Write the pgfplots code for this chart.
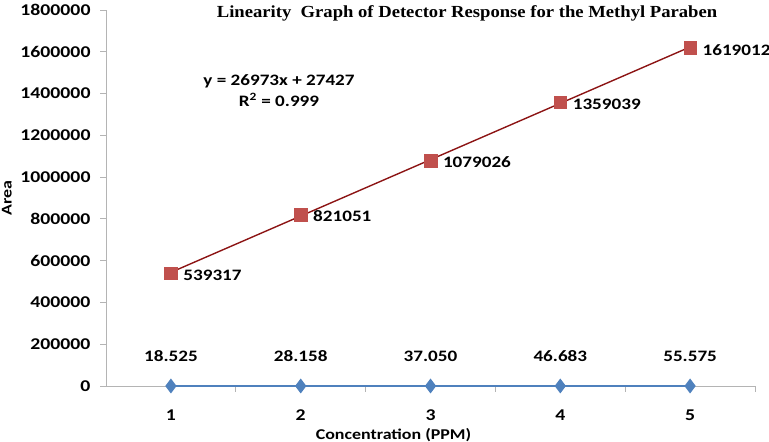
\documentclass[border=0pt]{standalone}
\usepackage{pgfplots}
\pgfplotsset{compat=1.18}
\usepackage{fontspec}
\setmainfont{Carlito}
\newfontfamily\titlefont{Liberation Serif}
\definecolor{exred}{RGB}{192,80,77}
\definecolor{exdark}{RGB}{140,20,20}
\definecolor{exblue}{RGB}{79,129,189}
\definecolor{axgray}{RGB}{180,180,180}
\newcommand\hs[1]{\scalebox{1.2}[1]{#1}}
\begin{document}
\begin{tikzpicture}[x=1bp,y=1bp]
\useasboundingbox (0,0) rectangle (769,442);
\begin{axis}[
  at={(106bp,56bp)}, anchor=origin,
  scale only axis, width=649bp, height=376bp,
  xmin=0.5, xmax=5.5, ymin=0, ymax=1800000,
  axis lines*=left,
  axis line style={axgray, line width=0.8pt},
  xtick={1,2,3,4,5},
  major x tick style={draw=none},
  minor xtick={1.5,2.5,3.5,4.5,5.5},
  minor x tick style={axgray, line width=0.8pt},
  minor tick length=6bp,
  ytick={0,200000,...,1800000},
  major y tick style={axgray, line width=0.8pt},
  major tick length=6bp,
  tick align=outside,
  scaled y ticks=false,
  yticklabel={\hs{\pgfmathprintnumber[fixed,1000 sep={}]{\tick}}},
  yticklabel style={font=\fontsize{16.5}{18}\selectfont\bfseries, xshift=-6bp},
  xticklabel={\hs{\pgfmathprintnumber{\tick}}},
  xticklabel style={font=\fontsize{16.5}{18}\selectfont\bfseries, yshift=-14bp},
  /pgf/number format/assume math mode=true,
  xlabel={\hs{Concentration (PPM)}},
  xlabel style={font=\fontsize{15}{17}\selectfont\bfseries, yshift=-1bp, xshift=-37bp},
  ylabel={\hs{Area}},
  ylabel style={font=\fontsize{15}{17}\selectfont\bfseries, yshift=2bp},
  clip=false,
]
\addplot[exdark, line width=1.4pt, forget plot] coordinates {(1,544013.4) (5,1622964.6)};
\addplot[draw=none, mark=square*, mark size=6.3bp, mark options={fill=exred, draw=exred},
  nodes near coords={\hs{\pgfplotspointmeta}}, point meta=explicit symbolic,
  every node near coord/.append style={anchor=west, xshift=9bp, yshift=-2bp, font=\fontsize{16}{18}\selectfont\bfseries, black}]
  table[meta=label] {
x y label
1 539317 539317
2 821051 821051
3 1079026 1079026
4 1359039 1359039
5 1619012 1619012
};
\addplot[exblue, line width=1.2pt, mark=diamond*, mark size=6.5bp, mark options={fill=exblue, draw=exblue},
  nodes near coords={\hs{\pgfplotspointmeta}}, point meta=explicit symbolic,
  every node near coord/.append style={anchor=south, yshift=20bp, font=\fontsize{16}{18}\selectfont\bfseries, black}]
  table[meta=label] {
x y label
1 0 18.525
2 0 28.158
3 0 37.050
4 0 46.683
5 0 55.575
};
\node[font=\fontsize{16}{21}\selectfont\bfseries, align=center] at (axis cs:1.833,1415000) {\hs{y = 26973x + 27427}\\\hs{R\textsuperscript{2} = 0.999}};
\end{axis}
\node[font=\titlefont\fontsize{17}{19}\selectfont\bfseries] at (467,429) {\scalebox{1.1}[1]{Linearity\ \ Graph of Detector Response for the Methyl Paraben}};
\end{tikzpicture}
\end{document}
